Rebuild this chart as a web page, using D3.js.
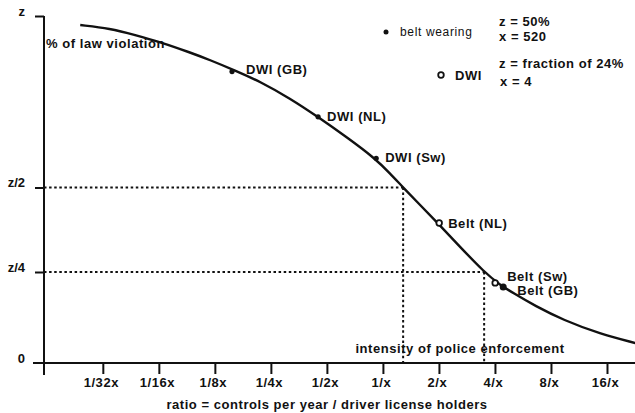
<!DOCTYPE html>
<html><head><meta charset="utf-8">
<script src="https://cdn.jsdelivr.net/npm/d3@7"></script>
<style>
body{margin:0;background:#fff;}
text{font-family:"Liberation Sans",Arial,sans-serif;fill:#111;}
</style></head>
<body><svg id="c" width="635" height="413"></svg>
<script>
// ---- data ----
const xTickValues = [1/32, 1/16, 1/8, 1/4, 1/2, 1, 2, 4, 8, 16];
const xTickLabels = ["1/32x","1/16x","1/8x","1/4x","1/2x","1/x","2/x","4/x","8/x","16/x"];
const yTickValues = [0, 0.25, 0.5, 1];
const yTickLabels = ["0","z/4","z/2","z"];
// curve: ratio vs fraction of z
const curveRatio = [0.02363, 0.03423, 0.04665, 0.0635, 0.0921, 0.1177, 0.1605, 0.2186, 0.3171, 0.4484, 0.6421, 0.9082, 1.0935, 1.2843, 1.5845, 1.956, 2.601, 3.499, 4.266, 5.011, 6.580, 9.305, 14.71, 22.69];
const curveZ     = [0.9738, 0.9636, 0.9446, 0.9242, 0.8936, 0.8717, 0.8411, 0.8090, 0.7595, 0.7055, 0.6458, 0.5845, 0.5408, 0.5, 0.4482, 0.3964, 0.3240, 0.25, 0.2143, 0.1923, 0.1566, 0.1181, 0.0797, 0.0549];
// observations
const pointNames = ["DWI (GB)","DWI (NL)","DWI (Sw)","Belt (NL)","Belt (Sw)","Belt (GB)"];
const pointRatio = [0.1546, 0.4484, 0.920, 2.006, 4.01, 4.43];
const pointZ     = [0.838, 0.706, 0.585, 0.395, 0.220, 0.209];
const pointType  = ["dot","dot","dot","ring","ring","bigdot"];
// reference (dotted) levels
const refZ = [0.5, 0.25];
const refRatio = [1.2843, 3.499];

// ---- scales ----
const svg = d3.select("#c");
const x = d3.scaleLog().base(2).domain([Math.pow(2,-6.05), Math.pow(2,4.5)]).range([44, 635]);
const y = d3.scaleLinear().domain([0, 0.25, 0.5, 1]).range([363, 272, 187.5, 16]);
const axisY = y(0);
const FS = "13px", LS = "0.55px";

// dotted guides
refZ.forEach((z,i)=>{
  svg.append("line").attr("x1",44).attr("x2",x(refRatio[i])).attr("y1",y(z)).attr("y2",y(z))
    .attr("stroke","#111").attr("stroke-width",2).attr("stroke-dasharray","2.5,2.6");
  svg.append("line").attr("x1",x(refRatio[i])).attr("x2",x(refRatio[i])).attr("y1",y(z)).attr("y2",axisY)
    .attr("stroke","#111").attr("stroke-width",2).attr("stroke-dasharray","2.5,2.6");
});

// x axis
const xAxis = d3.axisBottom(x).tickValues(xTickValues).tickFormat((d,i)=>xTickLabels[i]).tickSize(11).tickPadding(4);
const gx = svg.append("g").attr("transform",`translate(0,${axisY})`).call(xAxis);
gx.select(".domain").remove();
gx.selectAll(".tick line").attr("stroke","#111").attr("stroke-width",2);
gx.selectAll(".tick text").attr("font-size",FS).attr("font-weight","bold").attr("letter-spacing",LS).attr("fill","#111").attr("dx","-2");
svg.append("line").attr("x1",33).attr("x2",635).attr("y1",axisY).attr("y2",axisY).attr("stroke","#111").attr("stroke-width",2);

// y axis
const yAxis = d3.axisLeft(y).tickValues(yTickValues).tickFormat((d,i)=>yTickLabels[i]).tickSize(9).tickPadding(10);
const gy = svg.append("g").attr("transform","translate(44,0)").call(yAxis);
gy.select(".domain").remove();
gy.selectAll(".tick line").attr("stroke","#111").attr("stroke-width",2);
gy.selectAll(".tick text").attr("font-size",FS).attr("font-weight","bold").attr("fill","#111").attr("dy","-0.05em");
gy.selectAll(".tick").filter(d=>d===0).select("line").remove();
svg.append("line").attr("x1",44).attr("x2",44).attr("y1",y(1)).attr("y2",375).attr("stroke","#111").attr("stroke-width",2);

// curve
const pts = curveRatio.map((r,i)=>[r,curveZ[i]]);
svg.append("path").datum(pts)
  .attr("d", d3.line().x(d=>x(d[0])).y(d=>y(d[1])).curve(d3.curveBasis))
  .attr("fill","none").attr("stroke","#111").attr("stroke-width",2.4);

// points
pointNames.forEach((n,i)=>{
  const cx = x(pointRatio[i]), cy = y(pointZ[i]);
  const t = pointType[i];
  if (t==="ring") {
    svg.append("circle").attr("cx",cx).attr("cy",cy).attr("r",2.8).attr("fill","#fff").attr("stroke","#111").attr("stroke-width",1.8);
  } else {
    svg.append("circle").attr("cx",cx).attr("cy",cy).attr("r", t==="bigdot"?3.5:2.6).attr("fill","#111");
  }
});
const labelDx = [14, 9, 9, 9, 12, 14];
const labelDy = [-2, 0, -1, 0, -6.5, 3.5];
pointNames.forEach((n,i)=>{
  svg.append("text").attr("x",x(pointRatio[i])+labelDx[i]).attr("y",y(pointZ[i])+labelDy[i]).attr("dy","0.35em")
    .attr("font-size",FS).attr("font-weight","bold").attr("letter-spacing",LS).text(n);
});

// annotations
const bold = (tx,ty,s,anchor)=>svg.append("text").attr("x",tx).attr("y",ty).attr("dy","0.35em")
  .attr("font-size",FS).attr("font-weight","bold").attr("letter-spacing",LS).attr("text-anchor",anchor||"start").text(s);
bold(46, 43, "% of law violation");
bold(460, 348, "intensity of police enforcement", "middle");
bold(327, 404, "ratio = controls per year / driver license holders", "middle");

// legend
svg.append("circle").attr("cx",386).attr("cy",32).attr("r",2.5).attr("fill","#111");
svg.append("text").attr("x",400).attr("y",32).attr("dy","0.35em").attr("font-size","12px").attr("letter-spacing","0.65px").text("belt wearing");
svg.append("circle").attr("cx",441).attr("cy",75).attr("r",2.8).attr("fill","#fff").attr("stroke","#111").attr("stroke-width",1.8);
bold(455, 75, "DWI");
bold(499, 21, "z = 50%");
bold(499, 36, "x = 520");
bold(499, 63, "z = fraction of 24%");
bold(500, 81, "x = 4");
</script></body></html>
